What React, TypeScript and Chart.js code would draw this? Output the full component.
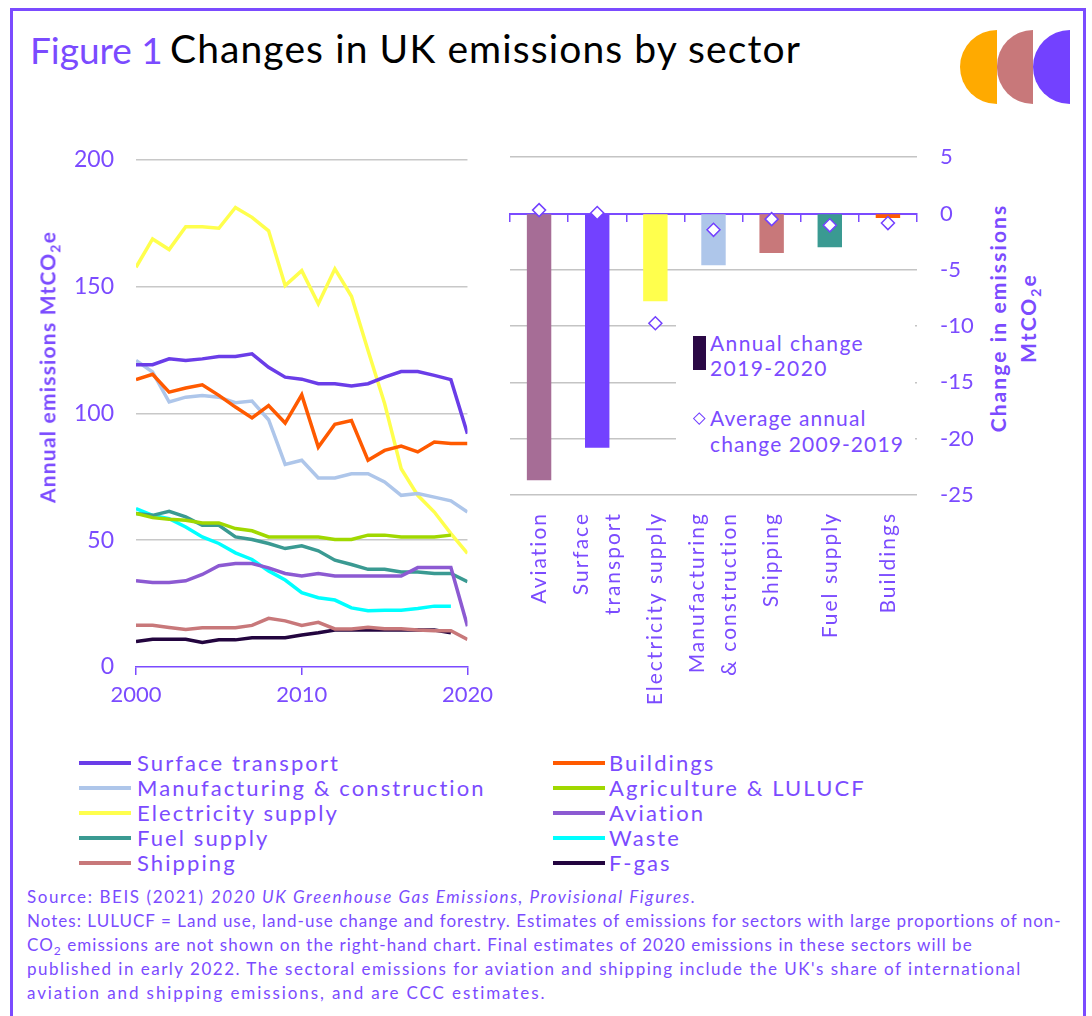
import React, { useEffect, useRef } from 'react';
import { Chart, registerables } from 'chart.js';

Chart.register(...registerables);

const PURPLE = '#7B4BFF';
const FONT = 'Lato, "Open Sans", sans-serif';

// ---------- Left chart data (MtCO2e) ----------
const years = [2000, 2001, 2002, 2003, 2004, 2005, 2006, 2007, 2008, 2009, 2010, 2011, 2012, 2013, 2014, 2015, 2016, 2017, 2018, 2019, 2020];
const surfaceTransport = [119.2, 119.2, 121.5, 120.9, 121.5, 122.4, 122.4, 123.5, 118.2, 114.3, 113.5, 111.7, 111.7, 110.8, 111.7, 114.3, 116.5, 116.5, 115.0, 113.3, 92.0];
const buildings = [113.3, 115.4, 108.4, 110.0, 111.3, 107.1, 102.5, 98.2, 103.1, 96.2, 107.3, 86.7, 95.7, 97.2, 81.5, 85.4, 87.1, 84.8, 88.7, 88.1, 88.1];
const manufacturing = [120.9, 116.3, 104.5, 106.4, 107.1, 106.4, 104.2, 104.9, 97.5, 79.9, 81.5, 74.5, 74.5, 76.2, 76.2, 73.0, 67.7, 68.4, 67.0, 65.5, 61.1];
const agriculture = [60.5, 58.9, 58.3, 57.9, 56.8, 56.8, 54.6, 53.7, 51.3, 51.3, 51.3, 51.3, 50.3, 50.3, 52.0, 52.0, 51.3, 51.3, 51.3, 52.0, null];
const electricity = [157.6, 168.8, 164.6, 173.6, 173.6, 173.0, 181.2, 177.3, 172.0, 150.4, 156.3, 143.2, 157.0, 146.2, 124.8, 103.9, 78.2, 67.7, 61.1, 52.6, 44.8];
const aviation = [34.0, 33.3, 33.3, 34.0, 36.5, 39.9, 40.8, 40.8, 39.1, 36.9, 35.9, 36.9, 35.9, 35.9, 35.9, 35.9, 35.9, 39.2, 39.2, 39.2, 16.1];
const fuelSupply = [60.5, 59.8, 61.4, 59.2, 55.9, 55.9, 51.3, 50.3, 48.7, 46.7, 47.8, 45.8, 42.1, 40.4, 38.5, 38.5, 37.5, 37.5, 36.9, 36.9, 33.6];
const waste = [62.5, 59.8, 58.5, 55.2, 51.3, 48.7, 45.0, 42.4, 37.9, 34.3, 29.3, 27.3, 26.4, 23.3, 22.2, 22.4, 22.4, 23.1, 24.0, 24.0, null];
const shipping = [16.5, 16.5, 15.6, 14.8, 15.5, 15.5, 15.5, 16.4, 19.2, 18.2, 16.4, 17.6, 15.0, 15.0, 15.7, 15.1, 15.1, 14.6, 14.3, 14.3, 10.9];
const fgas = [10.0, 10.9, 10.9, 10.9, 9.7, 10.7, 10.7, 11.5, 11.5, 11.5, 12.6, 13.5, 14.6, 14.6, 14.6, 14.6, 14.6, 14.6, 14.6, 13.5, null];

const sectorNames = ['Surface transport', 'Buildings', 'Manufacturing & construction', 'Agriculture & LULUCF', 'Electricity supply', 'Aviation', 'Fuel supply', 'Waste', 'Shipping', 'F-gas'];
const sectorValues = [surfaceTransport, buildings, manufacturing, agriculture, electricity, aviation, fuelSupply, waste, shipping, fgas];
const sectorColors = ['#6A3DE8', '#FF5A00', '#AEC6EA', '#A0D800', '#FFFF4D', '#8C5AD2', '#3A9A92', '#00FFFF', '#C8787A', '#23053F'];

const leftTicks = [0, 50, 100, 150, 200];
const xTickYears = [2000, 2010, 2020];

// ---------- Right chart data (change, MtCO2e) ----------
const categories = ['Aviation', ['Surface', 'transport'], 'Electricity supply', ['Manufacturing', '& construction'], 'Shipping', 'Fuel supply', 'Buildings'];
const annualChange = [-23.7, -20.8, -7.8, -4.6, -3.5, -3.0, -0.4];
const avgChange = [0.3, 0.05, -9.75, -1.45, -0.5, -1.05, -0.85];
const barColors = ['#A66D96', '#7341FF', '#FFFF4D', '#AEC6EA', '#C8787A', '#3A9A92', '#FF5A00'];
const rightTicks = [5, 0, -5, -10, -15, -20, -25];

const categoryLabelPlugin = {
  id: 'categoryLabels',
  afterDraw(chart: any) {
    const xs = chart.scales.x;
    const area = chart.chartArea;
    const ctx = chart.ctx as CanvasRenderingContext2D;
    ctx.save();
    ctx.fillStyle = PURPLE;
    ctx.font = `21px ${FONT}`;
    (ctx as any).letterSpacing = '2px';
    ctx.textAlign = 'right';
    ctx.textBaseline = 'middle';
    categories.forEach((lab, i) => {
      const lines = Array.isArray(lab) ? lab : [lab];
      const x = xs.getPixelForValue(i);
      ctx.save();
      ctx.translate(x, area.bottom + 17);
      ctx.rotate(-Math.PI / 2);
      lines.forEach((ln, j) => ctx.fillText(ln, 0, (j - (lines.length - 1) / 2) * 32));
      ctx.restore();
    });
    ctx.restore();
  },
};

function LeftChart() {
  const ref = useRef<HTMLCanvasElement | null>(null);
  useEffect(() => {
    if (!ref.current) return;
    const chart = new Chart(ref.current, {
      type: 'line',
      data: {
        datasets: sectorNames.map((name, k) => ({
          label: name,
          data: years.map((yr, i) => ({ x: yr, y: sectorValues[k][i] })),
          borderColor: sectorColors[k],
          backgroundColor: sectorColors[k],
          borderWidth: 3.5,
          pointRadius: 0,
          tension: 0,
          fill: false,
        })),
      },
      options: {
        animation: false,
        responsive: false,
        layout: { padding: { top: 19, right: 30, left: 0, bottom: 0 } },
        plugins: { legend: { display: false }, tooltip: { enabled: false } },
        scales: {
          x: {
            type: 'linear',
            min: xTickYears[0],
            max: xTickYears[xTickYears.length - 1],
            afterBuildTicks: (s: any) => { s.ticks = xTickYears.map((v) => ({ value: v })); },
            ticks: { color: PURPLE, font: { family: FONT, size: 22 }, padding: 7, callback: (v: any) => String(v), maxRotation: 0 },
            grid: { drawOnChartArea: false, color: PURPLE, tickLength: 8, lineWidth: 1.5 },
            border: { color: PURPLE, width: 1.5 },
            afterFit: (s: any) => { s.height = 50; },
          },
          y: {
            min: 0,
            max: 200,
            afterBuildTicks: (s: any) => { s.ticks = leftTicks.map((v) => ({ value: v })); },
            ticks: { color: PURPLE, font: { family: FONT, size: 23 }, padding: 22 },
            grid: { color: (c: any) => (c.tick && c.tick.value === 0 ? 'rgba(0,0,0,0)' : '#C8C8C8'), lineWidth: 1.5, drawTicks: false },
            border: { display: false },
            afterFit: (s: any) => { s.width = 76; },
          },
        },
      },
    } as any);
    return () => chart.destroy();
  }, []);
  return <canvas ref={ref} width={440} height={593} style={{ position: 'absolute', left: 60, top: 124 }} />;
}

function RightChart() {
  const ref = useRef<HTMLCanvasElement | null>(null);
  useEffect(() => {
    if (!ref.current) return;
    const chart = new Chart(ref.current, {
      type: 'bar',
      data: {
        labels: categories,
        datasets: [
          {
            type: 'line',
            label: 'Average annual change 2009-2019',
            data: avgChange,
            showLine: false,
            pointStyle: 'rectRot',
            pointRadius: 6.5,
            pointBackgroundColor: '#FFFFFF',
            pointBorderColor: '#7341FF',
            pointBorderWidth: 1.5,
            order: 0,
          },
          {
            type: 'bar',
            label: 'Annual change 2019-2020',
            data: annualChange,
            backgroundColor: barColors,
            barPercentage: 0.42,
            categoryPercentage: 1,
            order: 1,
          },
        ],
      },
      plugins: [categoryLabelPlugin],
      options: {
        animation: false,
        responsive: false,
        layout: { padding: { top: 17, left: 10, right: 0, bottom: 0 } },
        plugins: { legend: { display: false }, tooltip: { enabled: false } },
        scales: {
          x: {
            position: 'bottom',
            grid: { display: false, drawTicks: false },
            border: { display: false },
            ticks: { display: false },
            afterFit: (s: any) => { s.height = 220; },
          },
          x2: {
            type: 'category',
            position: { y: 0 },
            offset: true,
            grid: { offset: true, drawOnChartArea: false, color: PURPLE, lineWidth: 1.5, tickLength: 7 },
            border: { color: PURPLE, width: 2 },
            ticks: { display: false },
          },
          y: {
            position: 'right',
            min: -25,
            max: 5,
            afterBuildTicks: (s: any) => { s.ticks = rightTicks.map((v) => ({ value: v })); },
            ticks: { color: PURPLE, font: { family: FONT, size: 22 }, padding: 23 },
            grid: { color: (c: any) => (c.tick && c.tick.value === 0 ? 'rgba(0,0,0,0)' : '#C4C4C4'), lineWidth: 1.5, drawTicks: false },
            border: { display: false },
            afterFit: (s: any) => { s.width = 60; },
          },
        },
      },
    } as any);
    return () => chart.destroy();
  }, []);
  return <canvas ref={ref} width={477} height={594} style={{ position: 'absolute', left: 500, top: 121 }} />;
}

const abs = (o: React.CSSProperties): React.CSSProperties => ({ position: 'absolute', ...o });

const footerLines: { spacing: number }[] = [{ spacing: 1.6 }, { spacing: 1.02 }, { spacing: 1.05 }, { spacing: 1.5 }, { spacing: 1.9 }];

export default function App() {
  return (
    <div style={abs({ left: 0, top: 0, width: 1092, height: 1016, overflow: 'hidden', background: '#FFFFFF', fontFamily: FONT })}>
      <div style={abs({ left: 10, top: 8, width: 1076, height: 1100, border: `3px solid ${PURPLE}`, boxSizing: 'border-box' })} />
      {/* Title */}
      <div style={abs({ left: 30, top: 30, fontSize: 37, lineHeight: '39px', color: PURPLE, whiteSpace: 'nowrap' })}>Figure 1</div>
      <div style={abs({ left: 170, top: 29, fontSize: 39, lineHeight: '39px', letterSpacing: '1.1px', color: '#000000', whiteSpace: 'nowrap' })}>Changes in UK emissions by sector</div>
      {/* Logo */}
      <div style={abs({ left: 960, top: 30, width: 37, height: 74, background: '#FFAA00', borderRadius: '37px 0 0 37px' })} />
      <div style={abs({ left: 997, top: 30, width: 36, height: 74, background: '#C8787A', borderRadius: '37px 0 0 37px' })} />
      <div style={abs({ left: 1033, top: 30, width: 37, height: 74, background: '#7341FF', borderRadius: '37px 0 0 37px' })} />

      <LeftChart />
      <RightChart />

      {/* Axis titles */}
      <div style={abs({ left: 49, top: 367, transform: 'translate(-50%, -50%) rotate(-90deg)', whiteSpace: 'nowrap', fontWeight: 700, fontSize: 21, letterSpacing: '1.2px', color: PURPLE })}>
        Annual emissions MtCO<sub style={{ fontSize: 14 }}>2</sub>e
      </div>
      <div style={abs({ left: 1013, top: 318, transform: 'translate(-50%, -50%) rotate(-90deg)', whiteSpace: 'nowrap', fontWeight: 700, fontSize: 21, letterSpacing: '2.1px', lineHeight: '30px', color: PURPLE, textAlign: 'center' })}>
        Change in emissions<br />MtCO<sub style={{ fontSize: 14, lineHeight: 0 }}>2</sub>e
      </div>

      {/* Right chart inner legend */}
      <div style={abs({ left: 676, top: 312, width: 239, height: 158, background: '#FFFFFF' })} />
      <div style={abs({ left: 693, top: 336, width: 13, height: 34, background: '#2A0845' })} />
      <div style={abs({ left: 710, top: 330, fontSize: 21, lineHeight: '25px', letterSpacing: '1.4px', color: PURPLE, whiteSpace: 'nowrap' })}>Annual change<br />2019-2020</div>
      <div style={abs({ left: 694.5, top: 413.5, width: 6.5, height: 6.5, border: '1.5px solid #7341FF', transform: 'rotate(45deg)', background: '#FFF' })} />
      <div style={abs({ left: 710, top: 405, fontSize: 21, lineHeight: '26px', letterSpacing: '1.1px', color: PURPLE, whiteSpace: 'nowrap' })}>Average annual<br />change 2009-2019</div>

      {/* Bottom legend */}
      {sectorNames.map((name, k) => {
        const col = k % 2;
        const row = Math.floor(k / 2);
        const cy = 763 + row * 25;
        const sx = col === 0 ? 79 : 553;
        const tx = col === 0 ? 137 : 609;
        return (
          <React.Fragment key={name}>
            <div style={abs({ left: sx, top: cy - 2, width: 52, height: 4, background: sectorColors[k] })} />
            <div style={abs({ left: tx, top: cy - 13, fontSize: 22, lineHeight: '26px', letterSpacing: '2.1px', color: PURPLE, whiteSpace: 'nowrap' })}>{name}</div>
          </React.Fragment>
        );
      })}

      {/* Footer */}
      <div style={abs({ left: 27, top: 885, fontSize: 17, lineHeight: '24px', color: PURPLE, whiteSpace: 'nowrap' })}>
        <div style={{ letterSpacing: `${footerLines[0].spacing}px` }}>Source: BEIS (2021) <i>2020 UK Greenhouse Gas Emissions, Provisional Figures.</i></div>
        <div style={{ letterSpacing: `${footerLines[1].spacing}px` }}>Notes: LULUCF = Land use, land-use change and forestry. Estimates of emissions for sectors with large proportions of non-</div>
        <div style={{ letterSpacing: `${footerLines[2].spacing}px` }}>CO<sub style={{ fontSize: 12, lineHeight: 0 }}>2</sub> emissions are not shown on the right-hand chart. Final estimates of 2020 emissions in these sectors will be</div>
        <div style={{ letterSpacing: `${footerLines[3].spacing}px` }}>published in early 2022. The sectoral emissions for aviation and shipping include the UK's share of international</div>
        <div style={{ letterSpacing: `${footerLines[4].spacing}px` }}>aviation and shipping emissions, and are CCC estimates.</div>
      </div>
    </div>
  );
}
